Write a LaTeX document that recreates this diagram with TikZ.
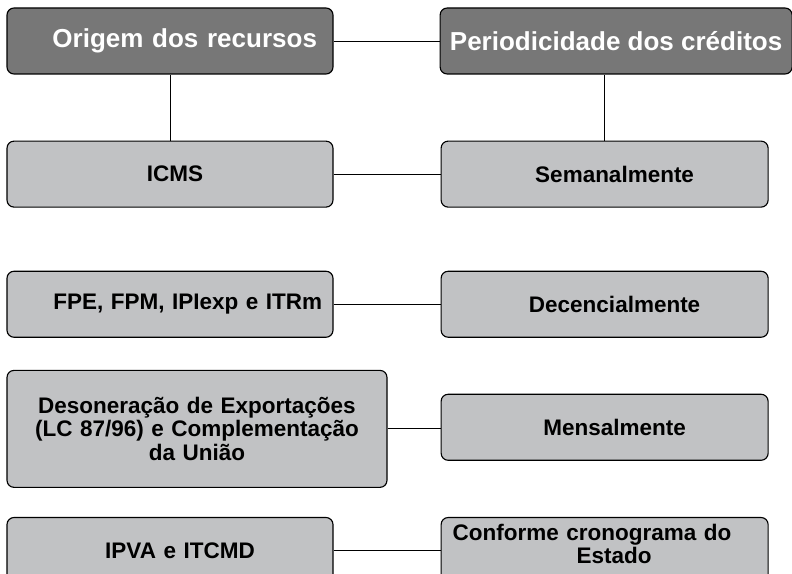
\documentclass[tikz,border=0pt]{standalone}
\usepackage{fontspec}
\setmainfont{Liberation Sans}
\usetikzlibrary{positioning, calc}
\usepackage{xcolor}
\definecolor{fxDarkGray}{RGB}{119, 119, 119}
\definecolor{fxLightGray}{RGB}{193, 194, 196}

\begin{document}
\begin{tikzpicture}[
    node distance=1.65cm,
    headbox/.style={
        rectangle,
        rounded corners=5pt,
        minimum height=1.65cm,
        font=\fontsize{18.5}{22}\selectfont\bfseries,
        text=white,
        draw=black,
        fill=fxDarkGray,
        line width=0.8pt
    },
    itembox/.style={
        rectangle,
        rounded corners=5pt,
        minimum width=8.15cm,
        minimum height=1.65cm,
        text width=7.6cm,
        align=center,
        font=\fontsize{16}{16.8}\selectfont\bfseries,
        draw=black,
        fill=fxLightGray,
        line width=0.8pt
    },
    link/.style={
        draw=black,
        line width=0.7pt
    }
]

\useasboundingbox (0,0) rectangle (19.8,-14.35);

% Header row
\node[headbox, minimum width=8.15cm, text width=7.35cm, align=right] (orig) at (4.25,-1.025) {Origem dos recursos};
\node[headbox, minimum width=8.8cm, right=2.65cm of orig] (peri) {Periodicidade dos créditos};

% Left column - origin of the funds
\node[itembox, below=of orig] (icms) {\hspace*{0.25cm}ICMS};
\node[itembox, below=1.575cm of icms, align=right] (fpe) {FPE, FPM, IPIexp e ITRm};
\node[itembox, minimum width=9.5cm, text width=9cm, minimum height=2.925cm,
      below=0.8cm of fpe.south west, anchor=north west] (deson) {
    Desoneração de Exportações\\
    (LC 87/96) e Complementação\\
    da União
};
\node[itembox, below=0.725cm of deson.south west, anchor=north west] (ipva) {\hspace*{0.5cm}IPVA e ITCMD};

% Right column - periodicity of the credits
\node[itembox, minimum width=8.175cm, right=2.675cm of icms] (sem) {\hspace*{0.5cm}Semanalmente};
\node[itembox, minimum width=8.175cm, right=2.675cm of fpe] (dec) {\hspace*{0.5cm}Decencialmente};
\node[itembox, minimum width=8.175cm, right=1.325cm of deson, yshift=0.04cm] (mens) {\hspace*{0.5cm}Mensalmente};
\node[itembox, minimum width=8.175cm, right=2.675cm of ipva, align=left, text depth=0.9cm,
      font=\fontsize{16}{14}\selectfont\bfseries] (conf) {
    Conforme cronograma do\\
    \hspace*{3.1cm}Estado
};

% Connectors
\draw[link] (orig.east) -- (peri.west);
\draw[link] (orig.south) -- (icms.north);
\draw[link] (sem.north) -- (sem.north |- peri.south);
\draw[link] (icms.east) -- (sem.west);
\draw[link] (fpe.east) -- (dec.west);
\draw[link] (deson.east) -- (deson.east -| mens.west);
\draw[link] (ipva.east) -- (conf.west);

\end{tikzpicture}
\end{document}
